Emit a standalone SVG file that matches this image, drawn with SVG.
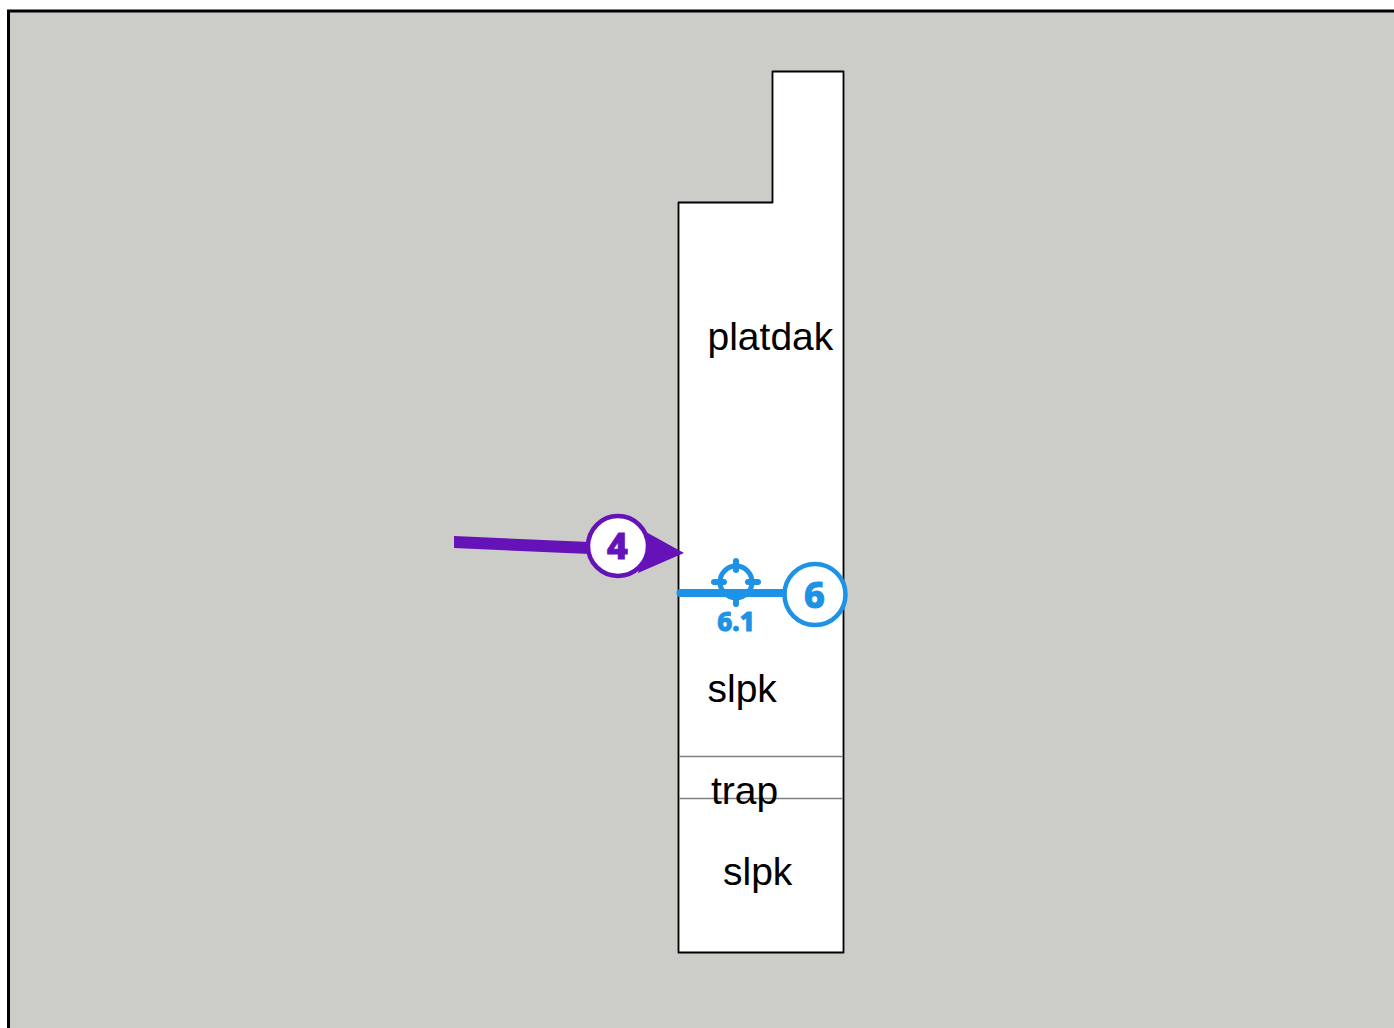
<svg xmlns="http://www.w3.org/2000/svg" width="1394" height="1028" viewBox="0 0 1394 1028">
<style>
.lbl{font-family:"Liberation Sans",Arial,sans-serif;font-size:39px;fill:#000}
.num{font-family:"Noto Sans","Open Sans",sans-serif;font-weight:800;stroke-width:1}
.thin{stroke:#808080;stroke-width:1.5;fill:none}
</style>
<rect width="1394" height="1028" fill="#fff"/>
<rect x="8.500" y="11" width="1400" height="1030" fill="#cccdc8" stroke="#000" stroke-width="3"/>
<g id="building">
<path d="M772.500 71.500H843.500V952.500H678.500V202.500H772.500Z" fill="#fff" stroke="#000" stroke-width="1.800" stroke-linejoin="round"/>
<path class="thin" d="M679 756.500H843M679 798.500H843"/>
<text class="lbl" x="707.500" y="350">platdak</text>
<text class="lbl" x="707.500" y="702">slpk</text>
<text class="lbl" x="711" y="804">trap</text>
<text class="lbl" x="723" y="885">slpk</text>
</g>
<g id="connectors">
<path d="M454 536L590 542V554L454 548Z" fill="#6512b8"/>
<path d="M646 532L684 553L638 573Z" fill="#6512b8"/>
<path d="M680.500 593H785" stroke="#1e92e6" stroke-width="8" stroke-linecap="round" fill="none"/>
</g>
<g id="node-4">
<circle cx="618" cy="546" r="30" fill="#fff" stroke="#6512b8" stroke-width="4.500"/>
<text class="num" x="617.500" y="559" font-size="36" fill="#6512b8" stroke="#6512b8" text-anchor="middle">4</text>
</g>
<g id="node-6-1">
<circle cx="736" cy="582" r="16" fill="none" stroke="#1e92e6" stroke-width="5"/>
<path d="M736 561V570M736 597V604M714 582H724M748 582H758" stroke="#1e92e6" stroke-width="6" stroke-linecap="round" fill="none"/>
<path d="M722 593Q736 604 750 593Z" fill="#1e92e6"/>
<text class="num" x="736" y="631" font-size="26" fill="#1e92e6" stroke="#1e92e6" text-anchor="middle">6.1</text>
</g>
<g id="node-6">
<circle cx="815" cy="594.500" r="30.500" fill="#fff" stroke="#1e92e6" stroke-width="4.500"/>
<text class="num" x="814.500" y="608" font-size="36" fill="#1e92e6" stroke="#1e92e6" text-anchor="middle">6</text>
</g>
</svg>
